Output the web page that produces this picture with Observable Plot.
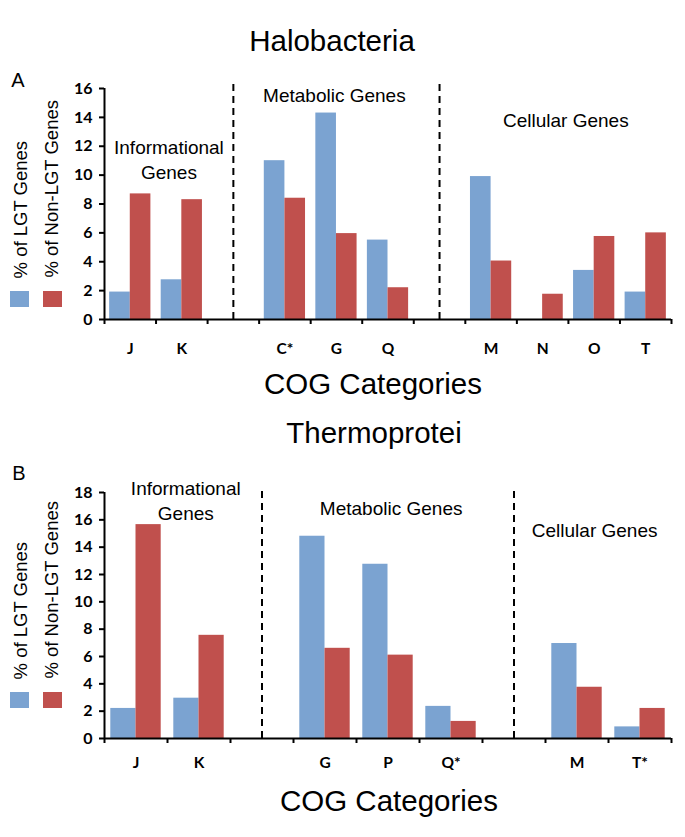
<!DOCTYPE html>
<html>
<head>
<meta charset="utf-8">
<script src="https://cdn.jsdelivr.net/npm/d3@7"></script>
<script src="https://cdn.jsdelivr.net/npm/@observablehq/plot@0.6"></script>
<style>
  body { margin: 0; background: #fff; }
  #page { position: relative; width: 685px; height: 837px; overflow: hidden; background: #fff;
          font-family: "Liberation Sans", Arial, sans-serif; color: #000; }
  .abs { position: absolute; white-space: nowrap; line-height: 1; }
  .center { transform: translate(-50%, -50%); }
  .title { font-size: 29.5px; }
  .axtitle { font-size: 29.5px; }
  .letter { font-size: 20px; }
  .ylab { font-size: 18.5px; writing-mode: vertical-rl; transform: translateX(-50%) rotate(180deg); }
  .sw { position: absolute; width: 19px; height: 16px; }
  .panel { position: absolute; left: 0; }
</style>
</head>
<body>
<div id="page"></div>
<script>
// ---------- data ----------
const seriesNames = ["% of LGT Genes", "% of Non-LGT Genes"];
const colors = ["#7BA3D1", "#C0504D"];

// Panel A: Halobacteria ("" = empty slot holding the dashed separator)
const catsA   = ["J", "K", "", "C*", "G", "Q", "", "M", "N", "O", "T"];
const lgtA    = [1.9, 2.75, null, 11.0, 14.3, 5.5, null, 9.9, 0, 3.4, 1.9];
const nonLgtA = [8.7, 8.3, null, 8.4, 5.95, 2.2, null, 4.05, 1.75, 5.75, 6.0];
const yTicksA = [0, 2, 4, 6, 8, 10, 12, 14, 16];

// Panel B: Thermoprotei
const catsB   = ["J", "K", "", "G", "P", "Q*", "", "M", "T*"];
const lgtB    = [2.2, 2.95, null, 14.8, 12.75, 2.35, null, 6.95, 0.85];
const nonLgtB = [15.65, 7.55, null, 6.6, 6.1, 1.25, null, 3.75, 2.2];
const yTicksB = [0, 2, 4, 6, 8, 10, 12, 14, 16, 18];

const groupNames = ["Informational\nGenes", "Metabolic Genes", "Cellular Genes"];

// ---------- drawing ----------
const tickFont = "Lato, 'Open Sans', sans-serif";
const textFont = "'Liberation Sans', Arial, sans-serif";

function panel(cfg) {
  const {cats, lgt, non, yTicks, marginTop, plotH, marginBottom, labelPad, dashTop, notePos} = cfg;
  const n = cats.length;
  const idx = d3.range(n);
  const filled = idx.filter(i => cats[i] !== "");
  const gaps = idx.filter(i => cats[i] === "");
  const yMax = d3.max(yTicks);
  const notes = groupNames.map((label, k) => ({label, x: notePos[k][0], y: notePos[k][1]}));
  return Plot.plot({
    width: 685,
    height: marginTop + plotH + marginBottom,
    marginLeft: 104, marginRight: 14, marginTop, marginBottom,
    style: {fontFamily: textFont, background: "white", overflow: "visible"},
    x: {type: "linear", domain: [0, n], axis: null},
    y: {domain: [0, yMax], axis: null},
    marks: [
      Plot.rect(filled, {x1: i => i + 0.1, x2: i => i + 0.5, y1: 0, y2: i => lgt[i], fill: colors[0]}),
      Plot.rect(filled, {x1: i => i + 0.5, x2: i => i + 0.9, y1: 0, y2: i => non[i], fill: colors[1]}),
      Plot.ruleX(gaps, {x: i => i + 0.5, y1: 0, y2: dashTop, stroke: "black", strokeWidth: 2, strokeDasharray: "7,5"}),
      Plot.axisY({ticks: yTicks, tickSize: 5, tickPadding: 7, strokeWidth: 2, fontSize: 16, fontWeight: "bold",
                  fontFamily: tickFont, tickFormat: d3.format("d"), label: null}),
      Plot.ruleX([0], {y1: 0, y2: yMax, stroke: "black", strokeWidth: 2}),
      Plot.axisX({ticks: d3.range(0, n + 1), tickSize: 5, strokeWidth: 2, tickFormat: () => "", label: null}),
      Plot.ruleY([0], {stroke: "black", strokeWidth: 2}),
      Plot.axisX({ticks: filled.map(i => i + 0.5), tickSize: 0, tickPadding: labelPad,
                  tickFormat: d => cats[Math.floor(d)], fontSize: 15.5, fontWeight: "bold",
                  fontFamily: tickFont, label: null}),
      Plot.text(notes, {x: "x", y: "y", text: "label", fontSize: 19, lineHeight: 1.3, fill: "black", fontFamily: textFont})
    ]
  });
}

const page = document.getElementById("page");
function addDiv(cls, text, style) {
  const d = document.createElement("div");
  d.className = cls;
  if (text) d.textContent = text;
  Object.assign(d.style, style);
  page.appendChild(d);
  return d;
}

// Panel A
const svgA = panel({
  cats: catsA, lgt: lgtA, non: nonLgtA, yTicks: yTicksA,
  marginTop: 25, plotH: 231, marginBottom: 45, labelPad: 23, dashTop: 16.45,
  notePos: [[1.25, 11.15], [4.46, 15.6], [8.95, 13.85]]
});
const wrapA = addDiv("panel", "", {top: "63px"});
wrapA.appendChild(svgA);

// Panel B
const svgB = panel({
  cats: catsB, lgt: lgtB, non: nonLgtB, yTicks: yTicksB,
  marginTop: 22, plotH: 246, marginBottom: 40, labelPad: 18, dashTop: 18.2,
  notePos: [[1.29, 17.5], [4.55, 16.9], [7.78, 15.3]]
});
const wrapB = addDiv("panel", "", {top: "470px"});
wrapB.appendChild(svgB);

// titles and labels
addDiv("abs center title", "Halobacteria", {left: "332px", top: "41px"});
addDiv("abs center axtitle", "COG Categories", {left: "373px", top: "384px"});
addDiv("abs center title", "Thermoprotei", {left: "374px", top: "433px"});
addDiv("abs center axtitle", "COG Categories", {left: "389px", top: "801px"});
addDiv("abs center letter", "A", {left: "18px", top: "80px"});
addDiv("abs center letter", "B", {left: "19px", top: "473px"});

// rotated y labels with colour keys
[[278, 291], [679, 692]].forEach(([textBottom, swTop]) => {
  addDiv("abs ylab", seriesNames[0], {left: "21px", bottom: (837 - textBottom) + "px"});
  addDiv("abs ylab", seriesNames[1], {left: "52px", bottom: (837 - textBottom) + "px"});
  addDiv("sw", "", {left: "10px", top: swTop + "px", background: colors[0]});
  addDiv("sw", "", {left: "43px", top: swTop + "px", background: colors[1]});
});
</script>
</body>
</html>
